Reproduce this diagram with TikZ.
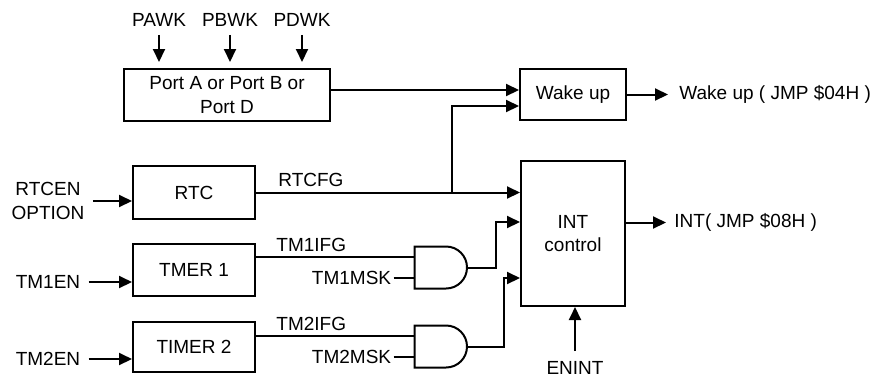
\documentclass[tikz,border=0pt]{standalone}
\usepackage{fontspec}
\setmainfont{Liberation Sans}
\usetikzlibrary{arrows.meta,positioning,calc,shapes.gates.logic.US}
\newcommand{\sigfont}{\fontsize{9.5}{11.8}\selectfont}
\tikzset{
  blk/.style={draw, line width=1pt, align=center, inner sep=2pt, font=\sigfont},
  lbl/.style={inner sep=1pt, align=center, font=\sigfont},
  andg/.style={and gate US, draw, line width=1pt, logic gate inputs=nn, minimum width=22pt, minimum height=21pt, inner sep=0pt},
  ln/.style={line width=1pt},
  arr/.style={-{Triangle[length=6.5pt,width=6pt]}, line width=1pt},
}
\begin{document}
\begin{tikzpicture}[x=0.5pt, y=-0.5pt]
  \useasboundingbox (0,0) rectangle (886,376);
  % blocks
  \node[blk, minimum width=103pt, minimum height=26pt] (port) at (227,95) {Port A or Port B or\\Port D};
  \node[blk, minimum width=53pt, minimum height=25.5pt] (wake) at (573,94.5) {Wake up};
  \node[blk, minimum width=61pt, minimum height=26.5pt] (rtc) at (194,192.5) {RTC};
  \node[blk, minimum width=61pt, minimum height=26pt] (tm1) at (194,270) {TMER 1};
  \node[blk, minimum width=61pt, minimum height=25pt] (tm2) at (194,347) {TIMER 2};
  \node[blk, minimum width=52pt, minimum height=72.5pt] (intc) at (573,233.5) {INT\\control};
  \node[andg] (g1) at (439,267.5) {};
  \node[andg] (g2) at (439,346.5) {};
  % port wake-up inputs
  \foreach \p/\x in {pawk/159,pbwk/230,pdwk/302} {
    \node[lbl] (\p) at (\x,20) {\MakeUppercase{\p}};
    \draw[arr, shorten <=3pt, shorten >=3pt] (\p) -- (\p |- port.north);
  }
  % enable inputs
  \node[lbl] (rtcen) at (48,201) {RTCEN\\OPTION};
  \node[lbl] (tm1en) at (48,282) {TM1EN};
  \node[lbl] (tm2en) at (48,359) {TM2EN};
  \foreach \u/\v in {rtcen/rtc,tm1en/tm1,tm2en/tm2} \draw[arr, shorten <=3pt] (\u) -- (\u -| \v.west);
  % wake up path
  \coordinate (porto) at ([yshift=2.5pt]port.east);
  \coordinate (wakea) at ([yshift=2.25pt]wake.west);
  \coordinate (wakeb) at ([yshift=-5.75pt]wake.west);
  \draw[arr] (porto) -- (porto -| wakea);
  \node[lbl, anchor=west] (wakeo) at ([xshift=25pt]wake.east) {Wake up ( JMP \$04H )};
  \draw[arr, shorten >=4.5pt] (wake) -- (wakeo);
  % rtc flag
  \coordinate (rtco) at (rtc.east);
  \draw[arr] (rtco) -- (rtco -| intc.west) coordinate[pos=0.744] (jn);
  \node[lbl, anchor=south west, xshift=10pt, yshift=1.5pt] at (rtco) {RTCFG};
  \draw[arr] (jn) |- (wakeb);
  % timer flags and masks
  \coordinate (tm1o) at ([yshift=6.5pt]tm1.east);
  \coordinate (tm2o) at ([yshift=5.5pt]tm2.east);
  \coordinate (g1b) at ([yshift=-5.25pt]g1.west);
  \coordinate (g2b) at ([yshift=-5.25pt]g2.west);
  \draw[ln] (tm1o) -- (tm1o -| g1.west);
  \draw[ln] (tm2o) -- (tm2o -| g2.west);
  \node[lbl, anchor=south west, xshift=9pt, yshift=1.5pt] at (tm1o) {TM1IFG};
  \node[lbl, anchor=south west, xshift=9pt, yshift=1.5pt] at (tm2o) {TM2IFG};
  \node[lbl, anchor=east] (tm1msk) at ([xshift=-10pt]g1b) {TM1MSK};
  \node[lbl, anchor=east] (tm2msk) at ([xshift=-10pt]g2b) {TM2MSK};
  \draw[ln] (tm1msk) -- (g1b);
  \draw[ln] (tm2msk) -- (g2b);
  % gate outputs to int control
  \draw[arr] (g1.east) -- ++(14pt,0) |- ([yshift=5.75pt]intc.west);
  \draw[arr] (g2.east) -- ++(18pt,0) |- ([yshift=-22.25pt]intc.west);
  % int output and enable
  \node[lbl, anchor=west] (into) at ([xshift=23pt,yshift=5.5pt]intc.east) {INT( JMP \$08H )};
  \draw[arr, shorten >=3pt] (intc.east |- into) -- (into);
  \node[lbl] (enint) at (575,368) {ENINT};
  \draw[arr, shorten <=4pt] (enint) -- (enint |- intc.south);
\end{tikzpicture}
\end{document}
